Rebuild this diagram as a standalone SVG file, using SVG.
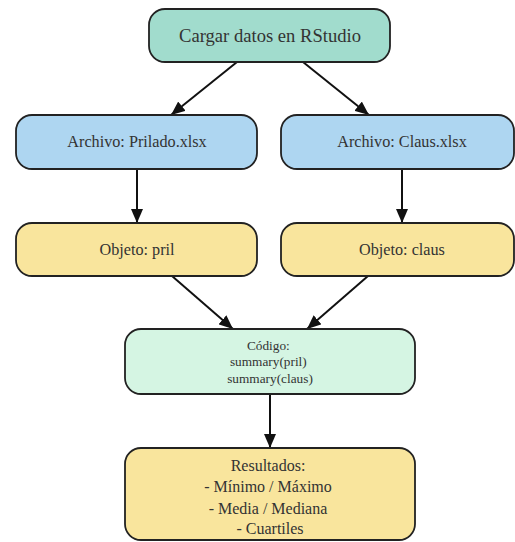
<svg xmlns="http://www.w3.org/2000/svg" width="515" height="542" viewBox="0 0 515 542">
  <defs>
    <marker id="arrow" viewBox="0 0 14 12" refX="14" refY="6" markerWidth="14" markerHeight="12" markerUnits="userSpaceOnUse" orient="auto">
      <path d="M0,0 L14,6 L0,12 z" fill="#111"/>
    </marker>
    <style>
      .box { stroke: #222; stroke-width: 1.8; }
      .t { font-family: "Liberation Serif", "Times New Roman", serif; fill: #333; text-anchor: middle; }
      .edge { stroke: #111; stroke-width: 2; fill: none; marker-end: url(#arrow); }
    </style>
  </defs>
  <rect width="515" height="542" fill="#fff"/>

  <g id="edges">
    <line class="edge" x1="237" y1="62" x2="171" y2="115"/>
    <line class="edge" x1="303" y1="62" x2="369" y2="115"/>
    <line class="edge" x1="137" y1="169" x2="137" y2="223"/>
    <line class="edge" x1="402" y1="169" x2="402" y2="223"/>
    <line class="edge" x1="172" y1="276" x2="233" y2="329"/>
    <line class="edge" x1="368" y1="276" x2="307" y2="329"/>
    <line class="edge" x1="270" y1="394" x2="270" y2="448"/>
  </g>

  <g id="cargar">
    <rect class="box" x="149" y="9" width="241" height="53" rx="16" fill="#a1dccd"/>
    <text class="t" x="270" y="42" font-size="18.6">Cargar datos en RStudio</text>
  </g>

  <g id="archivo-prilado">
    <rect class="box" x="16" y="115" width="241" height="54" rx="16" fill="#aed6f1"/>
    <text class="t" x="137" y="147" font-size="16.2">Archivo: Prilado.xlsx</text>
  </g>

  <g id="archivo-claus">
    <rect class="box" x="281" y="115" width="233" height="54" rx="16" fill="#aed6f1"/>
    <text class="t" x="402" y="147" font-size="16.2">Archivo: Claus.xlsx</text>
  </g>

  <g id="objeto-pril">
    <rect class="box" x="16" y="223" width="241" height="53" rx="16" fill="#f9e59d"/>
    <text class="t" x="137" y="255" font-size="16.2">Objeto: pril</text>
  </g>

  <g id="objeto-claus">
    <rect class="box" x="281" y="223" width="233" height="53" rx="16" fill="#f9e59d"/>
    <text class="t" x="402" y="255" font-size="16.2">Objeto: claus</text>
  </g>

  <g id="codigo">
    <rect class="box" x="125" y="329" width="290" height="65" rx="16" fill="#d5f5e3"/>
    <text class="t" font-size="13.3">
      <tspan x="270" y="350">Código:</tspan>
      <tspan x="270" y="366">summary(pril)</tspan>
      <tspan x="270" y="383">summary(claus)</tspan>
    </text>
  </g>

  <g id="resultados">
    <rect class="box" x="125" y="448" width="290" height="92" rx="16" fill="#f9e59d"/>
    <text class="t" font-size="16">
      <tspan x="270" y="471">Resultados:</tspan>
      <tspan x="270" y="492">- Mínimo / Máximo</tspan>
      <tspan x="270" y="514">- Media / Mediana</tspan>
      <tspan x="270" y="534">- Cuartiles</tspan>
    </text>
  </g>
</svg>
